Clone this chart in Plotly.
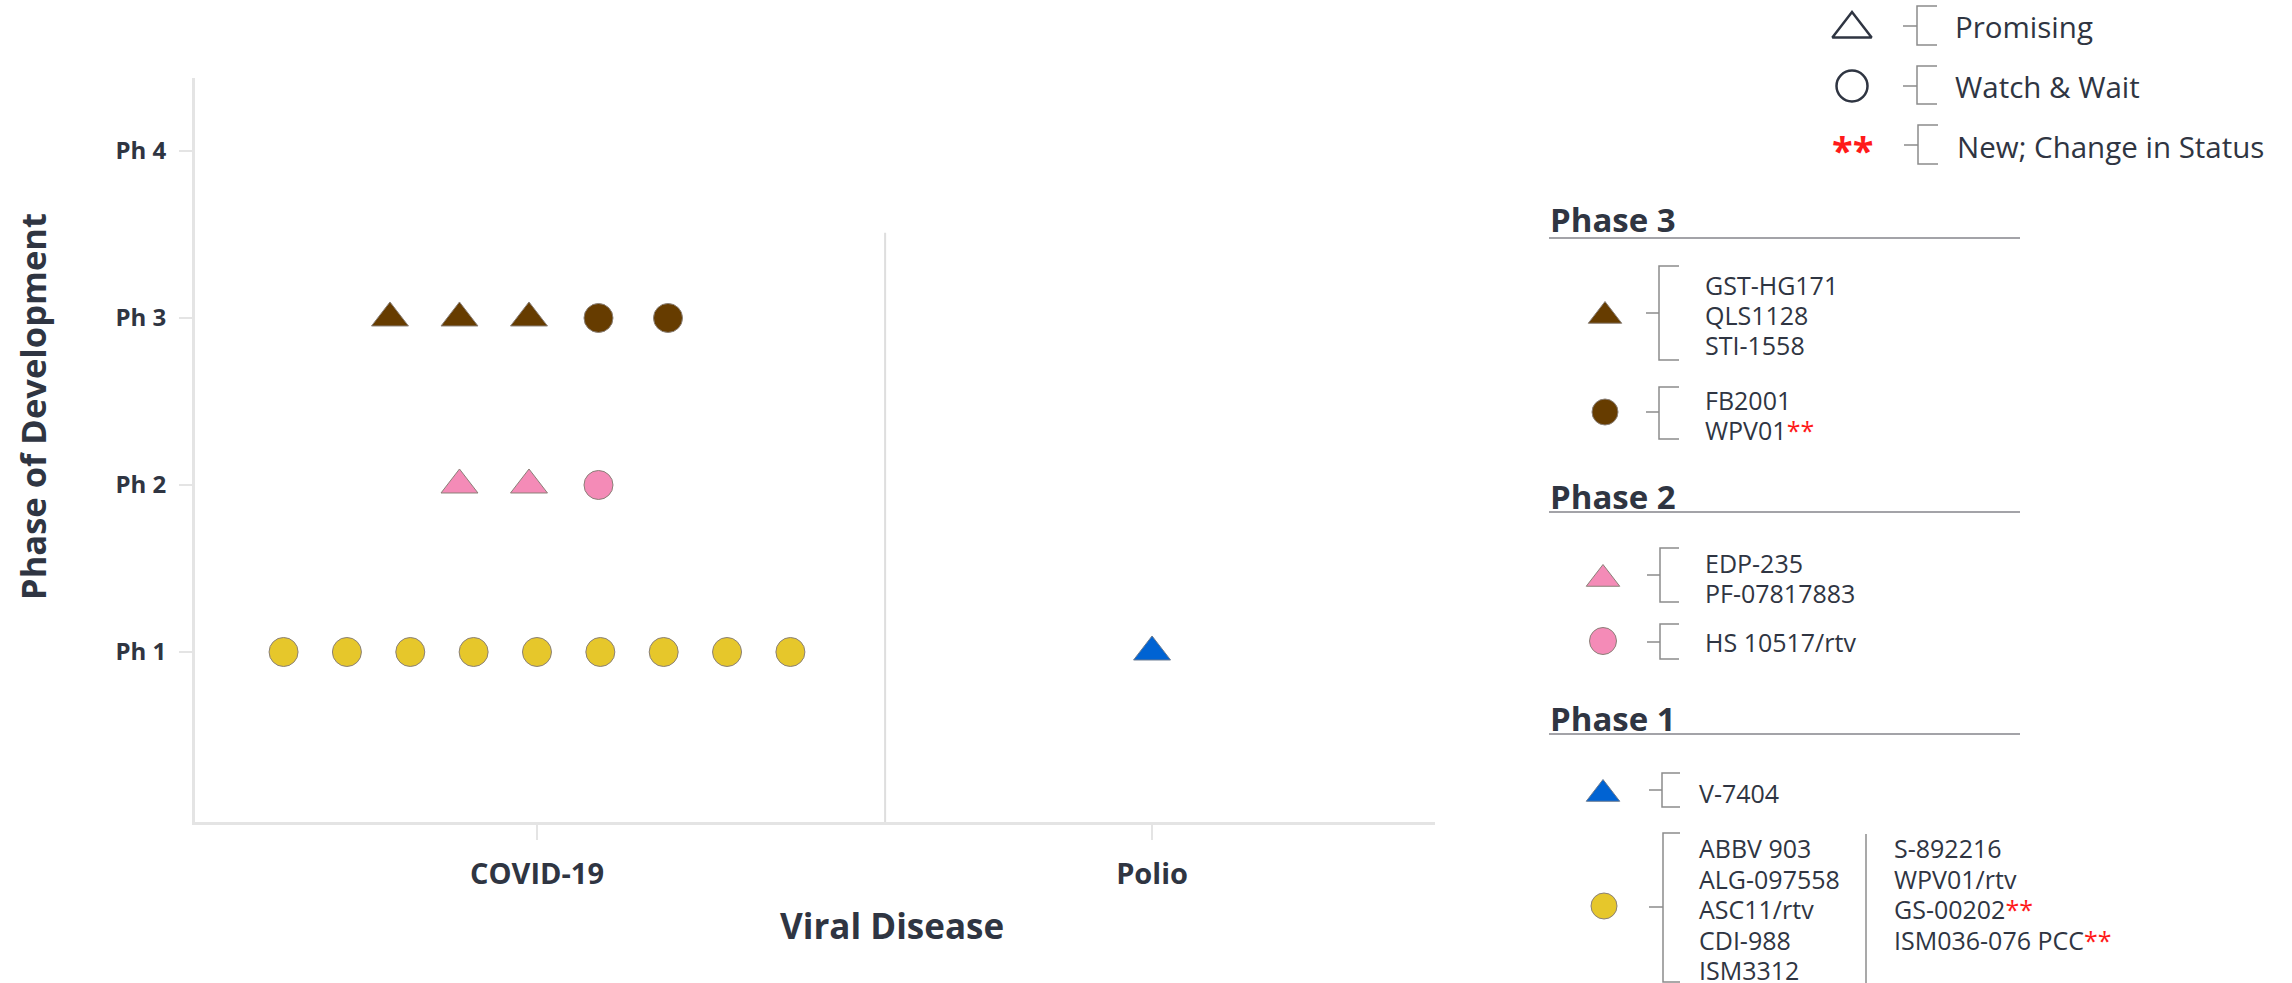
import plotly.graph_objects as go

# ---------------- data ----------------
diseases = ["COVID-19", "Polio"]
phase_values = [1, 2, 3, 4]
phase_labels = ["Ph 1", "Ph 2", "Ph 3", "Ph 4"]

drug_names = ["GST-HG171", "QLS1128", "STI-1558", "FB2001", "WPV01",
              "EDP-235", "PF-07817883", "HS 10517/rtv",
              "V-7404",
              "ABBV 903", "ALG-097558", "ASC11/rtv", "CDI-988", "ISM3312",
              "S-892216", "WPV01/rtv", "GS-00202", "ISM036-076 PCC"]
drug_disease = ["COVID-19"] * 8 + ["Polio"] + ["COVID-19"] * 9
drug_phase = [3, 3, 3, 3, 3, 2, 2, 2, 1, 1, 1, 1, 1, 1, 1, 1, 1, 1]
drug_status = (["Promising"] * 3 + ["Watch & Wait"] * 2 + ["Promising"] * 2 +
               ["Watch & Wait"] + ["Promising"] + ["Watch & Wait"] * 9)
drug_new = [False, False, False, False, True, False, False, False, False,
            False, False, False, False, False, False, False, True, True]

# ---------------- styles ----------------
TEXT = "#2f3542"
FONT = "Open Sans"
RED = "#ff1a1a"
group_color = {("COVID-19", 3): "#663c00", ("COVID-19", 2): "#f48bb7",
               ("COVID-19", 1): "#e6c72b", ("Polio", 1): "#0063d3"}
status_symbol = {"Promising": "triangle-up", "Watch & Wait": "circle"}
status_size = {"Promising": 32, "Watch & Wait": 29}
outline = {"COVID-19": "#8a8078", "Polio": "#6a7a90"}

W, H = 2292, 983

fig = go.Figure()

# jitter position of each drug within its (disease, phase) row
rows = {}
for i in range(len(drug_names)):
    rows.setdefault((drug_disease[i], drug_phase[i]), []).append(i)
xpos = [0.0] * len(drug_names)
for key, idx in rows.items():
    n = len(idx)
    step, shift = (0.103, 0.0) if n > 6 else (0.113, -0.013)
    for k, i in enumerate(idx):
        xpos[i] = diseases.index(drug_disease[i]) + shift * (n > 1) + (k - (n - 1) / 2) * step

groups = {}
for i in range(len(drug_names)):
    groups.setdefault((drug_disease[i], drug_phase[i], drug_status[i]), []).append(i)
for (d, p, s), idx in groups.items():
    fig.add_trace(go.Scatter(
        x=[xpos[i] for i in idx], y=[drug_phase[i] for i in idx],
        mode="markers", showlegend=False,
        text=[drug_names[i] for i in idx], hoverinfo="text",
        marker=dict(symbol=status_symbol[s], size=status_size[s],
                    color=group_color[(d, p)],
                    line=dict(color=outline[d], width=1)),
        xaxis="x", yaxis="y"))

# ---------------- legend (pixel axes x2/y2) ----------------
shapes = []
annotations = []
BR = "#8c8c8c"


def bracket(xt, xv, xa, y0, y1, yt):
    shapes.append(dict(type="path", xref="x2", yref="y2",
                       path=f"M{xt},{yt} L{xv},{yt} M{xa},{y0} L{xv},{y0} L{xv},{y1} L{xa},{y1}",
                       line=dict(color=BR, width=1.5)))


def label(x, y, txt, size=25, bold=False, color=TEXT, anchor="left"):
    annotations.append(dict(xref="x2", yref="y2", x=x, y=y, text=txt, showarrow=False,
                            xanchor=anchor, yanchor="middle",
                            font=dict(family=FONT, size=size, color=color,
                                      weight=700 if bold else 400)))


def glyph(x, y, symbol, color, size, line_color, line_width):
    fig.add_trace(go.Scatter(x=[x], y=[y], mode="markers", showlegend=False, hoverinfo="skip",
                             marker=dict(symbol=symbol, size=size, color=color,
                                         line=dict(color=line_color, width=line_width)),
                             xaxis="x2", yaxis="y2"))


def star(name, new):
    return name + (f"<span style='color:{RED}'>**</span>" if new else "")


# key
glyph(1852, 29, "triangle-up-open", TEXT, 34, TEXT, 2.5)
bracket(1903, 1917, 1937, 6, 45, 26)
label(1953, 26, "Promising", size=29.5)
glyph(1852, 86, "circle-open", TEXT, 31, TEXT, 2.5)
bracket(1903, 1917, 1937, 66, 104, 86)
label(1953, 86, "Watch & Wait", size=29.5)
label(1852, 150, "**", size=38, bold=True, color=RED, anchor="center")
bracket(1904, 1918, 1938, 125, 164, 145)
label(1955, 146, "New; Change in Status", size=29.5)

# phase headers
for txt, yc, yl in [("Phase 3", 219, 238), ("Phase 2", 496, 512), ("Phase 1", 718, 734)]:
    label(1548, yc, txt, size=33, bold=True)
    shapes.append(dict(type="line", xref="x2", yref="y2", x0=1549, x1=2020, y0=yl, y1=yl,
                       line=dict(color="#a3a3a8", width=2)))


def idx_of(d, p, s):
    return groups[(d, p, s)]


# Phase 3
ids = idx_of("COVID-19", 3, "Promising")
glyph(1605, 316, "triangle-up", group_color[("COVID-19", 3)], 29, outline["COVID-19"], 1)
bracket(1646, 1659, 1679, 266, 360, 313)
for k, i in enumerate(ids):
    label(1703, 285 + 30 * k, star(drug_names[i], drug_new[i]))
ids = idx_of("COVID-19", 3, "Watch & Wait")
glyph(1605, 412, "circle", group_color[("COVID-19", 3)], 26, outline["COVID-19"], 1)
bracket(1646, 1659, 1679, 387, 439, 412)
for k, i in enumerate(ids):
    label(1703, 400 + 30 * k, star(drug_names[i], drug_new[i]))

# Phase 2
ids = idx_of("COVID-19", 2, "Promising")
glyph(1603, 579, "triangle-up", group_color[("COVID-19", 2)], 29, outline["COVID-19"], 1)
bracket(1647, 1660, 1679, 548, 602, 575)
for k, i in enumerate(ids):
    label(1703, 563 + 30 * k, star(drug_names[i], drug_new[i]))
ids = idx_of("COVID-19", 2, "Watch & Wait")
glyph(1603, 641, "circle", group_color[("COVID-19", 2)], 27, outline["COVID-19"], 1)
bracket(1647, 1660, 1679, 624, 659, 642)
for k, i in enumerate(ids):
    label(1703, 642 + 30 * k, star(drug_names[i], drug_new[i]))

# Phase 1
ids = idx_of("Polio", 1, "Promising")
glyph(1603, 794, "triangle-up", group_color[("Polio", 1)], 29, outline["Polio"], 1)
bracket(1649, 1662, 1680, 773, 807, 790)
for k, i in enumerate(ids):
    label(1697, 793 + 30 * k, star(drug_names[i], drug_new[i]))
ids = idx_of("COVID-19", 1, "Watch & Wait")
glyph(1604, 906, "circle", group_color[("COVID-19", 1)], 26, outline["COVID-19"], 1)
bracket(1649, 1663, 1680, 833, 982, 907)
for k, i in enumerate(ids):
    col, row = divmod(k, 5)
    label(1697 + 195 * col, 848 + 30.5 * row, star(drug_names[i], drug_new[i]))
shapes.append(dict(type="line", xref="x2", yref="y2", x0=1866, x1=1866, y0=834, y1=990,
                   line=dict(color=BR, width=1.5)))

# ---------------- main plot decorations ----------------
# category separator
shapes.append(dict(type="line", xref="x", yref="y", x0=0.566, x1=0.566, y0=-0.018, y1=3.51,
                   line=dict(color="#dedede", width=2), layer="below"))

annotations.append(dict(xref="x2", yref="y2", x=32, y=407, text="Phase of Development",
                        textangle=-90, showarrow=False, xanchor="center", yanchor="middle",
                        font=dict(family=FONT, size=34.5, color=TEXT, weight=700)))
annotations.append(dict(xref="x2", yref="y2", x=892, y=925, text="Viral Disease",
                        showarrow=False, xanchor="center", yanchor="middle",
                        font=dict(family=FONT, size=35, color=TEXT, weight=700)))

fig.update_layout(
    width=W, height=H, autosize=False,
    margin=dict(l=0, r=0, t=0, b=0),
    paper_bgcolor="white", plot_bgcolor="rgba(0,0,0,0)",
    showlegend=False,
    shapes=shapes, annotations=annotations,
    xaxis=dict(domain=[195 / W, 1435 / W], range=[-0.556, 1.46],
               tickmode="array", tickvals=list(range(len(diseases))), ticktext=diseases,
               showgrid=False, zeroline=False, showline=True, linecolor="#e4e4e4", linewidth=3,
               ticks="outside", ticklen=15, tickwidth=2, tickcolor="#e4e4e4",
               ticklabelstandoff=9,
               tickfont=dict(family=FONT, size=29, color=TEXT, weight=700),
               anchor="y", fixedrange=True),
    yaxis=dict(domain=[(H - 822) / H, (H - 78) / H], range=[-0.018, 4.437],
               tickmode="array", tickvals=phase_values, ticktext=phase_labels,
               showgrid=False, zeroline=False, showline=True, linecolor="#e4e4e4", linewidth=3,
               ticks="outside", ticklen=13, tickwidth=2, tickcolor="#e4e4e4",
               ticklabelstandoff=8,
               tickfont=dict(family=FONT, size=24, color=TEXT, weight=700),
               anchor="x", fixedrange=True),
    xaxis2=dict(domain=[0, 1], range=[0, W], visible=False, anchor="y2", fixedrange=True),
    yaxis2=dict(domain=[0, 1], range=[H, 0], visible=False, anchor="x2", fixedrange=True),
)

fig.write_html("out.html", config={"displayModeBar": False},
               post_script="document.body.style.margin='0px';document.body.style.overflow='hidden';")
